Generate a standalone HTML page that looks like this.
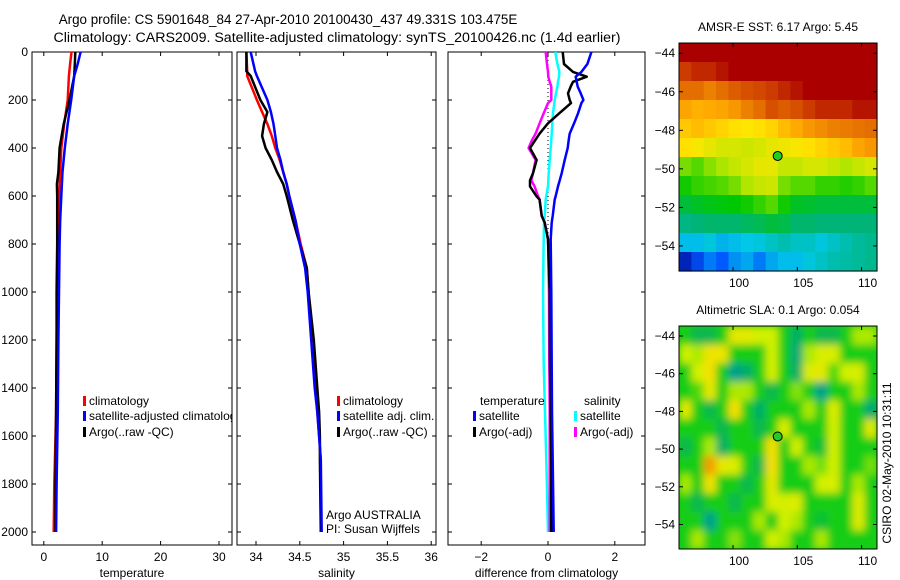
<!DOCTYPE html>
<html><head><meta charset="utf-8">
<style>
body{margin:0;background:#fff;}
svg{display:block;font-family:"Liberation Sans",sans-serif;}
</style></head>
<body>
<svg id="fig" width="900" height="580" viewBox="0 0 900 580" xmlns="http://www.w3.org/2000/svg">
<defs>
<clipPath id="clipSla"><rect x="679" y="326" width="198" height="223"/></clipPath>
<clipPath id="clipP1"><rect x="32" y="52" width="200" height="493"/></clipPath>
<filter id="blur" x="-5%" y="-5%" width="110%" height="110%"><feGaussianBlur stdDeviation="4"/></filter>
</defs>
<text x="288" y="24" font-size="13.4" text-anchor="middle">Argo profile: CS 5901648_84 27-Apr-2010 20100430_437 49.331S 103.475E</text>
<text x="337" y="42" font-size="14.2" text-anchor="middle">Climatology: CARS2009. Satellite-adjusted climatology: synTS_20100426.nc (1.4d earlier)</text>
<g id="g"></g>
</svg>
<script>
// ---- profile data ----
const tDepth = [0,50,100,200,300,400,500,550,600,700,800,1000,1200,1500,1800,2000];
const tClim  = [4.75,4.5,4.3,4.1,3.5,3.0,2.8,2.7,2.6,2.5,2.4,2.3,2.2,2.1,1.8,1.7];
const tSat   = [6.3,5.8,5.2,4.7,4.1,3.6,3.2,3.1,3.0,2.8,2.7,2.6,2.5,2.4,2.2,2.1];
const tArgo  = [5.4,5.3,5.2,4.4,3.4,2.7,2.5,2.25,2.3,2.3,2.3,2.2,2.2,2.1,2.0,2.0];
const sDepth = [0,80,100,200,250,300,350,400,450,500,550,600,700,800,900,1000,1200,1400,1500,1600,1700,2000];
const sClim  = [33.89,33.9,33.9,34.01,34.07,34.13,34.18,34.22,34.27,34.31,34.35,34.38,34.45,34.51,34.58,34.6,34.64,34.68,34.7,34.72,34.74,34.74];
const sSat   = [33.94,33.99,34.01,34.13,34.17,34.2,34.22,34.24,34.28,34.31,34.35,34.38,34.45,34.5,34.56,34.59,34.63,34.67,34.7,34.72,34.74,34.75];
const sArgo  = [33.89,33.89,33.94,34.05,34.13,34.09,34.07,34.11,34.18,34.24,34.31,34.35,34.42,34.5,34.58,34.6,34.66,34.7,34.72,34.73,34.73,34.74];
const dDepth = [0,50,83,103,124,144,172,200,213,255,297,340,367,400,450,505,535,560,600,615,683,711,780,1000,1300,1500,1700,2000];
const dTSat  = [1.3,1.18,1.0,0.83,0.86,0.89,0.98,1.06,1.0,0.9,0.78,0.65,0.62,0.59,0.5,0.41,0.35,0.3,0.23,0.2,0.14,0.11,0.08,0.1,0.11,0.12,0.14,0.17];
const dTArgo = [0.44,0.48,0.75,1.16,0.75,0.68,0.6,0.65,0.69,0.34,0.0,-0.25,-0.38,-0.54,-0.34,-0.45,-0.54,-0.54,-0.35,-0.25,-0.19,-0.1,0.0,0.05,0.06,0.08,0.1,0.1];
const dSSat  = [0.22,0.28,0.34,0.33,0.3,0.28,0.24,0.2,0.19,0.15,0.13,0.11,0.1,0.08,0.05,0.02,0.01,0.0,-0.05,-0.07,-0.1,-0.12,-0.13,-0.15,-0.13,-0.09,-0.05,0.0];
const dSArgo = [-0.07,-0.03,0.0,0.01,0.05,0.1,0.1,0.1,0.0,-0.13,-0.25,-0.37,-0.48,-0.58,-0.37,-0.45,-0.5,-0.4,-0.3,-0.25,-0.19,-0.1,0.0,0.03,0.04,0.05,0.05,0.05];
const depthTicks = [0,200,400,600,800,1000,1200,1400,1600,1800,2000];
const tempTicks = [0,10,20,30];
const salTicks = [34,34.5,35,35.5,36];
const salTickLabels = ["34","34.5","35","35.5","36"];
const diffTicks = [-2,0,2];
// ---- map data ----
const lonTicks = [100,105,110];
const latTicks = [-44,-46,-48,-50,-52,-54];
const floatLon = 103.475, floatLat = -49.331;
const sstGrid = [
[12,12,12,12,12,12,12,12,12,12,12,12,12,12,12,12],
[10.5,11,11,11.5,12,12,12,12,12,12,12,12,12,12,12,12],
[9.5,9.5,9.2,9.5,9.8,10,10.2,10.5,11,11.5,12,12,12,12,12,12],
[8.6,8.4,8.5,8.6,8.8,9.2,9.5,10,9.8,10,10.5,11,11,11,11.5,11.5],
[8,8.2,8,7.8,7.6,7.5,7.6,7.8,8.2,8.5,8.8,9,9.2,9.3,9.4,9.5],
[7.6,7.4,7.2,7,7,6.9,7,7.2,7.3,7.4,7.6,7.8,8,8.2,8.6,8.8],
[6.2,6,6.3,6.5,6.8,7,7.2,7.2,6.8,6.8,7,7,6.8,6.6,6.8,7],
[5.6,5.8,5.9,6,6.2,6.6,6.8,6.9,6.2,6,6,5.8,5.8,5.7,5.8,6],
[5,5.2,5.3,5.4,5.5,5.6,5.8,6,5.6,5.2,5.1,5,5,5,5,5],
[4.4,4.5,4.6,4.6,4.6,4.7,4.8,5,4.9,4.6,4.6,4.5,4.5,4.5,4.5,4.5],
[3.4,3.4,3.6,3.3,3.4,3.5,3.6,3.8,4,3.8,3.8,3.6,3.8,4,4.2,4.3],
[1.6,2.2,2.8,2.5,3,3.2,2.8,3.2,3.4,3.4,3.6,3.8,4,4.1,4.2,4.3]];
const slaGrid = [
[0,-0.5,-0.5,0,1.5,1.5,1,1,0,-0.7,0,-0.5,-0.5,0,0.8,0.8],
[1,0.8,1.8,1.8,0,0,0,1,0,-0.8,0.8,1.2,1.2,0,0,0],
[0,1,2,0,-1,-0.7,0,1,0,-0.7,1.3,1.5,0.3,1,1.2,0],
[0,0.3,1.5,0,0.8,0.8,0,-0.5,0,0.6,0,-1,0,0,0.8,0],
[1.5,0,-0.5,0,2,0,-0.7,0,0,0,0.8,0,1.3,0,0,-0.8],
[0,0,0,-0.5,0,0,-0.5,0,1.2,0,0,0,1,0,0,1.5],
[-0.5,0,0.8,-0.7,0,0,0,2,0,1,0,-0.3,1,0,0,0],
[0,0,2.8,1.5,1.3,0,-0.5,2,0,0,0.8,0.5,1,0,0,0.5],
[0.8,0,1.8,0,0,-0.5,0,1.5,0,0,0,1,1.2,0,0.8,0],
[0,-0.5,0,0,-0.5,0,0,1.2,1,1.3,0,0,0,0,1.3,0],
[0,0,-1,0,0,0,0.8,0,1,0.8,0,-0.3,0,0,1.3,0],
[0,0.8,0,0,0.6,0,0,1,0.8,0,0,0.8,0,0,0,0]];

const NS="http://www.w3.org/2000/svg";
const G=document.getElementById('g');
function el(tag,attrs,parent){const e=document.createElementNS(NS,tag);for(const k in attrs)e.setAttribute(k,attrs[k]);(parent||G).appendChild(e);return e;}
function txt(s,attrs,parent){const e=el('text',attrs,parent);e.textContent=s;return e;}

const yTop=52, yPer=0.24, yBot=545;
const yD = d => yTop + d*yPer;

const panels = [
 {name:'temperature-panel', x0:32, x1:232, xs:v=>43.8+v*5.84, ticks:tempTicks, labels:tempTicks.map(String), xlabel:'temperature'},
 {name:'salinity-panel', x0:237, x1:436, xs:v=>256+(v-34)*87.6, ticks:salTicks, labels:salTickLabels, xlabel:'salinity'},
 {name:'difference-panel', x0:448, x1:645, xs:v=>548+v*33.4, ticks:diffTicks, labels:diffTicks.map(v=>v<0?'\u22122':String(v)), xlabel:'difference from climatology'}
];
panels.forEach((p,i)=>{
  const g=el('g',{});
  
  
  const r=el('rect',{x:p.x0,y:yTop,width:p.x1-p.x0,height:yBot-yTop,fill:'#fff',stroke:'#000','stroke-width':1},g);
  
  
  p.ticks.forEach((t,j)=>{
    const x=p.xs(t);
    el('line',{x1:x,x2:x,y1:yBot,y2:yBot-4,stroke:'#000'},g);
    el('line',{x1:x,x2:x,y1:yTop,y2:yTop+4,stroke:'#000'},g);
    const tl=txt(p.labels[j],{x:x,y:561,'font-size':12,'text-anchor':'middle'},g);
    
    
  });
  depthTicks.forEach(d=>{
    el('line',{x1:p.x0,x2:p.x0+4,y1:yD(d),y2:yD(d),stroke:'#000'},g);
    el('line',{x1:p.x1,x2:p.x1-4,y1:yD(d),y2:yD(d),stroke:'#000'},g);
    if(i===0){
      const yl=txt(String(d),{x:28,y:yD(d)+4,'font-size':12,'text-anchor':'end'},g);
      
      
    }
  });
  const xl=txt(p.xlabel,{x:(p.x0+p.x1)/2,y:577,'font-size':12,'text-anchor':'middle'},g);
  
  
  p.g=g;
});
function line(p,xs,ds,color,name,dash){
  const pts=xs.map((v,k)=>p.xs(v).toFixed(1)+','+yD(ds[k]).toFixed(1)).join(' ');
  const pl=el('polyline',{points:pts,fill:'none',stroke:color,'stroke-width':dash?1:2.5,'stroke-linejoin':'round'},p.g);
  if(dash) pl.setAttribute('stroke-dasharray','1,3');
  
  
}
line(panels[0],tClim,tDepth,'#f00','temp-climatology-line');
line(panels[0],tArgo,tDepth,'#000','temp-argo-line');
line(panels[0],tSat,tDepth,'#00f','temp-satellite-line');
line(panels[1],sClim,sDepth,'#f00','sal-climatology-line');
line(panels[1],sArgo,sDepth,'#000','sal-argo-line');
line(panels[1],sSat,sDepth,'#00f','sal-satellite-line');
line(panels[2],[0,0],[0,760],'#000','zero-reference-line',true);
line(panels[2],dSSat,dDepth,'#0ff','diff-sal-satellite-line');
line(panels[2],dSArgo,dDepth,'#f0f','diff-sal-argo-line');
line(panels[2],dTArgo,dDepth,'#000','diff-temp-argo-line');
line(panels[2],dTSat,dDepth,'#00f','diff-temp-satellite-line');

function legend(g,x,y,color,label){
  const m=el('rect',{x:x,y:y-9,width:3,height:10,fill:color},g);
  
  
  const t=txt(label,{x:x+6,y:y,'font-size':12},g);
  
  
}
const leg1=el('g',{'clip-path':'url(#clipP1)'},panels[0].g);
legend(leg1,83,405,'#f00','climatology');
legend(leg1,83,420,'#00f','satellite-adjusted climatology');
legend(leg1,83,436,'#000','Argo(..raw -QC)');
legend(panels[1].g,337,405,'#f00','climatology');
legend(panels[1].g,337,420,'#00f','satellite adj. clim.');
legend(panels[1].g,337,436,'#000','Argo(..raw -QC)');
const ct=txt('temperature',{x:480,y:405,'font-size':12},panels[2].g);
 
const cs=txt('salinity',{x:584,y:405,'font-size':12},panels[2].g);
 
legend(panels[2].g,473,420,'#00f','satellite');
legend(panels[2].g,473,436,'#000','Argo(-adj)');
legend(panels[2].g,574,420,'#0ff','satellite');
legend(panels[2].g,574,436,'#f0f','Argo(-adj)');
const a1=txt('Argo AUSTRALIA',{x:326,y:519,'font-size':12},panels[1].g);
 
const a2=txt('PI: Susan Wijffels',{x:326,y:533,'font-size':12},panels[1].g);
 

// ---- maps ----
function lerpColor(stops,v){
  if(v<=stops[0][0]) return stops[0][1];
  for(let i=1;i<stops.length;i++){
    if(v<=stops[i][0]){const a=stops[i-1],b=stops[i];const f=(v-a[0])/(b[0]-a[0]);
      return a[1].map((c,k)=>Math.round(c+(b[1][k]-c)*f));}
  }
  return stops[stops.length-1][1];
}
const sstStops=[[1,[0,0,140]],[2.5,[0,90,255]],[3.5,[0,200,230]],[4.5,[0,180,120]],[5.5,[0,200,0]],[6.5,[170,230,0]],[7.5,[255,230,0]],[8.5,[255,170,0]],[10,[215,80,0]],[12,[170,0,0]]];
const slaStops=[[-1,[0,160,140]],[0,[20,205,20]],[1,[210,240,0]],[2,[245,225,0]],[3,[245,140,0]]];
const lonMin=95.8, lonMax=111.2, latTop=-43.47, latBot=-55.3;
function makeMap(name,x0,y0,w,h,grid,stops,title,blur){
  const mg=el('g',{});
  
  
  const lx=v=>x0+(v-lonMin)/(lonMax-lonMin)*w;
  const ly=v=>y0+(latTop-v)/(latTop-latBot)*h;
  const rows=grid.length, cols=grid[0].length;
  let holder=mg;
  if(blur){
    const c=el('g',{'clip-path':'url(#clipSla)'},mg);
    el('rect',{x:x0,y:y0,width:w,height:h,fill:'rgb(20,205,20)'},c);
    holder=el('g',{filter:'url(#blur)'},c);
  }
  grid.forEach((row,r)=>row.forEach((v,c)=>{
    const col=lerpColor(stops,v);
    const cell=el('rect',{x:(x0+c*w/cols).toFixed(2),y:(y0+r*h/rows).toFixed(2),width:(w/cols+0.6).toFixed(2),height:(h/rows+0.6).toFixed(2),fill:'rgb('+col.join(',')+')'},holder);
    
    
  }));
  const fr=el('rect',{x:x0,y:y0,width:w,height:h,fill:'none',stroke:'#000'},mg);
  
  
  lonTicks.forEach(t=>{
    const x=lx(t);
    el('line',{x1:x,x2:x,y1:y0+h,y2:y0+h-4,stroke:'#000'},mg);
    el('line',{x1:x,x2:x,y1:y0,y2:y0+4,stroke:'#000'},mg);
    const l=txt(String(t),{x:x+6,y:y0+h+16,'font-size':12,'text-anchor':'middle'},mg);
    
    
  });
  latTicks.forEach(t=>{
    const y=ly(t);
    el('line',{x1:x0,x2:x0+4,y1:y,y2:y,stroke:'#000'},mg);
    el('line',{x1:x0+w,x2:x0+w-4,y1:y,y2:y,stroke:'#000'},mg);
    const l=txt('\u2212'+String(-t),{x:x0-4,y:y+4,'font-size':12,'text-anchor':'end'},mg);
    
    
  });
  const dot=el('circle',{cx:lx(floatLon),cy:ly(floatLat),r:4.5,fill:'#2c2',stroke:'#000'},mg);
  
  
  const tt=txt(title,{x:x0+w/2,y:y0-12,'font-size':12,'text-anchor':'middle'},mg);
  
  
}
makeMap('sst-map',679,43,198,228,sstGrid,sstStops,'AMSR-E SST: 6.17 Argo: 5.45',false);
makeMap('sla-map',679,326,198,223,slaGrid,slaStops,'Altimetric SLA: 0.1 Argo: 0.054',true);
const stamp=txt('CSIRO 02-May-2010 10:31:11',{x:0,y:0,'font-size':12,'text-anchor':'middle',transform:'translate(891,463) rotate(-90)'});


</script>
</body></html>
